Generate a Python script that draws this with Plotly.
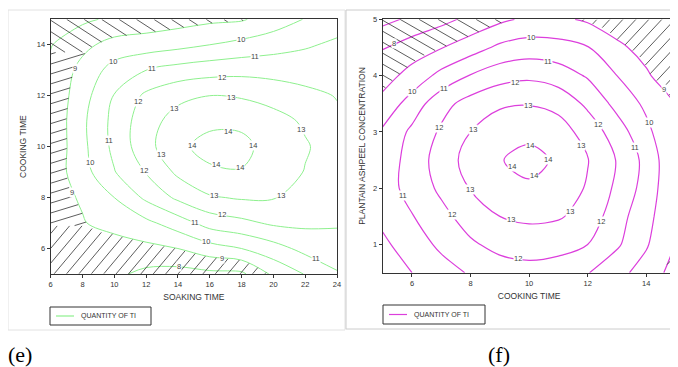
import numpy as np
import plotly.graph_objects as go

# ---------------- data ----------------
# Panel (e): quantity of TI vs soaking time (x) and cooking time (y)
soak_time = [6, 8, 10, 12, 14, 16, 18, 20, 22, 24]
cook_time_e = [5, 6, 7, 8, 9, 10, 11, 12, 13, 14, 15]
ti_e = [
    [8.7, 8.6, 8.2, 7.75, 7.6, 7.75, 7.8, 9.2, 10.05, 10.9],     # 5
    [8.8, 8.85, 8.6, 8.75, 9.0, 9.6, 10.0, 10.6, 11.3, 11.6],    # 6
    [8.75, 8.95, 9.3, 9.75, 10.5, 11.4, 11.75, 12.15, 12.2, 12.1],  # 7
    [8.7, 9.08, 10.0, 11.2, 12.2, 12.9, 13.1, 13.05, 12.7, 12.3],   # 8
    [8.4, 9.6, 10.95, 12.05, 13.2, 13.85, 13.95, 13.6, 12.95, 12.4],  # 9
    [8.2, 9.75, 11.25, 12.65, 13.8, 14.3, 14.25, 13.6, 13.1, 12.5],   # 10
    [8.2, 9.8, 11.3, 12.6, 13.4, 13.8, 13.8, 13.4, 12.85, 12.2],      # 11
    [8.2, 9.6, 11.05, 12.2, 12.75, 13.0, 12.9, 12.6, 12.3, 11.95],    # 12
    [8.2, 9.3, 10.4, 11.0, 11.4, 11.6, 11.7, 11.65, 11.5, 11.35],     # 13
    [7.95, 8.75, 9.35, 9.5, 9.7, 10.0, 10.3, 10.6, 10.9, 11.15],      # 14
    [7.4, 7.8, 8.2, 8.4, 8.6, 8.8, 8.9, 9.45, 10.05, 10.6],           # 15
]
levels_e = [8, 9, 10, 11, 12, 13, 14]
peak_e = (16.8, 10.0)

# Panel (f): quantity of TI vs cooking time (x) and plantain ash peel concentration (y)
cook_time_f = [5, 6, 7, 8, 9, 10, 11, 12, 13, 14, 15]
ash_conc = [0.5, 1.0, 1.5, 2.0, 2.5, 3.0, 3.5, 4.0, 4.5, 5.0]
ti_f = [
    [9.4, 10.0, 10.6, 11.1, 11.5, 11.65, 11.5, 11.05, 10.3, 9.6, 8.6],     # 0.5
    [9.8, 10.5, 11.2, 11.85, 12.3, 12.45, 12.35, 12.0, 11.15, 10.1, 8.95],  # 1.0
    [10.25, 10.95, 11.7, 12.45, 13.0, 13.2, 13.1, 12.65, 11.4, 10.35, 9.05],  # 1.5
    [10.55, 11.35, 12.2, 13.05, 13.6, 13.85, 13.6, 12.9, 11.8, 10.6, 9.1],   # 2.0
    [10.4, 11.4, 12.45, 13.4, 13.95, 14.3, 13.85, 13.05, 11.95, 10.7, 9.1],  # 2.5
    [10.15, 11.2, 12.15, 13.0, 13.6, 13.75, 13.45, 12.6, 11.5, 10.25, 9.05],  # 3.0
    [9.3, 10.45, 11.65, 12.4, 12.85, 12.95, 12.7, 11.8, 10.7, 9.8, 8.97],    # 3.5
    [8.6, 9.35, 10.3, 11.05, 11.6, 11.8, 11.5, 10.9, 10.0, 9.1, 8.5],        # 4.0
    [7.95, 8.5, 8.95, 9.55, 10.2, 10.45, 10.35, 10.05, 9.15, 8.75, 8.3],     # 4.5
    [6.7, 7.2, 7.7, 8.25, 8.8, 9.2, 9.2, 8.85, 8.6, 8.3, 7.95],              # 5.0
]
levels_f = [7, 8, 9, 10, 11, 12, 13, 14]
peak_f = (9.9, 2.45)

legend_name = "QUANTITY OF TI"
hatch_level = 9

# ---------------- layout geometry ----------------
# The page body keeps the browser's default 8 px margin, so the figure is drawn
# 8 px in from the window's top-left corner; all screen positions below are
# converted to figure positions.
OFF = 8
W, H = 678 - OFF, 367 - OFF
BOX_E = (50.7, 337.0, 19.3, 274.0)   # screen px: left, right, top, bottom
BOX_F = (382.7, 675.5, 19.3, 272.7)
GREEN = "#8ef08e"
MAGENTA = "#dc3fdc"
FONT = "Liberation Sans, Arial, sans-serif"
SERIF = "Liberation Serif, Times New Roman, serif"


def fx(x):
    return (x - OFF) / W


def fy(y):
    return 1 - (y - OFF) / H


def interp_grid(xs, ys, Z, xq, yq):
    xs = np.asarray(xs, float)
    ys = np.asarray(ys, float)
    Z = np.asarray(Z, float)
    gx = np.interp(xq, xs, np.arange(len(xs)))
    gy = np.interp(yq, ys, np.arange(len(ys)))
    i0 = np.clip(np.floor(gx).astype(int), 0, len(xs) - 2)
    j0 = np.clip(np.floor(gy).astype(int), 0, len(ys) - 2)
    tx = gx - i0
    ty = gy - j0
    return (Z[j0, i0] * (1 - tx) * (1 - ty) + Z[j0, i0 + 1] * tx * (1 - ty)
            + Z[j0 + 1, i0] * (1 - tx) * ty + Z[j0 + 1, i0 + 1] * tx * ty)


def px_to_data(px, py, xs, ys, box):
    x0, x1, y0, y1 = box
    xd = xs[0] + (px - x0) / (x1 - x0) * (xs[-1] - xs[0])
    yd = ys[0] + (y1 - py) / (y1 - y0) * (ys[-1] - ys[0])
    return xd, yd


def data_to_px(xd, yd, xs, ys, box):
    x0, x1, y0, y1 = box
    px = x0 + (xd - xs[0]) / (xs[-1] - xs[0]) * (x1 - x0)
    py = y1 - (yd - ys[0]) / (ys[-1] - ys[0]) * (y1 - y0)
    return px, py


def hatch(xs, ys, Z, box, families, level, spacing=9.5):
    x0, x1, y0, y1 = box
    outx, outy = [], []
    corners = np.array([[x0, y0], [x1, y0], [x0, y1], [x1, y1]])
    for ang, pred in families:
        a = np.radians(ang)
        d = np.array([np.cos(a), -np.sin(a)])
        n = np.array([-d[1], d[0]])
        pn = corners @ n
        pdd = corners @ d
        t = np.arange(pdd.min(), pdd.max(), 0.5)
        for c in np.arange(pn.min() + spacing / 2, pn.max(), spacing):
            px = c * n[0] + t * d[0]
            py = c * n[1] + t * d[1]
            inside = (px >= x0) & (px <= x1) & (py >= y0) & (py <= y1)
            xd, yd = px_to_data(px, py, xs, ys, box)
            z = interp_grid(xs, ys, Z, xd, yd)
            m = inside & (z < level) & pred(xd, yd)
            edges = np.flatnonzero(np.diff(np.concatenate([[0], m.astype(int), [0]])))
            for s, e in zip(edges[::2], edges[1::2]):
                if e - 1 - s < 3:
                    continue
                outx += [xd[s], xd[e - 1], None]
                outy += [yd[s], yd[e - 1], None]
    return outx, outy


def ray_labels(xs, ys, Z, box, center, levels, angles, xref, yref, margin=7, mindist=21):
    """Place level labels where rays from the peak cross each contour level."""
    x0, x1, y0, y1 = box
    cx, cy = data_to_px(center[0], center[1], xs, ys, box)
    r = np.arange(0, 500, 0.5)
    placed, anns = [], []
    for li, lev in enumerate(sorted(levels, reverse=True)):
        for ang in angles:
            a = np.radians(ang + ((li % 3) - 1) * 10)
            px = cx + r * np.cos(a)
            py = cy - r * np.sin(a)
            inside = (px >= x0) & (px <= x1) & (py >= y0) & (py <= y1)
            stop = np.argmin(inside) if not inside.all() else len(r)
            px, py = px[:stop], py[:stop]
            xd, yd = px_to_data(px, py, xs, ys, box)
            z = interp_grid(xs, ys, Z, xd, yd)
            hit = np.flatnonzero((z[:-1] >= lev) & (z[1:] < lev))
            if len(hit) == 0:
                continue
            k = hit[0]
            f = (z[k] - lev) / (z[k] - z[k + 1])
            qx = px[k] + f * (px[k + 1] - px[k])
            qy = py[k] + f * (py[k + 1] - py[k])
            if qx < x0 + margin or qx > x1 - margin or qy < y0 + margin or qy > y1 - margin:
                continue
            if any((qx - u) ** 2 + (qy - v) ** 2 < mindist ** 2 for u, v in placed):
                continue
            placed.append((qx, qy))
            dx, dy = px_to_data(qx, qy, xs, ys, box)
            anns.append(dict(x=dx, y=dy, xref=xref, yref=yref, text=str(lev),
                             xanchor="center", yanchor="middle",
                             showarrow=False, bgcolor="white", borderpad=0,
                             font=dict(size=7.5, color="#444444", family=FONT)))
    return anns


fig = go.Figure()

# hatch patterns (regions below the lowest level of interest)
hx, hy = hatch(soak_time, cook_time_e, ti_e, BOX_E,
               [(-33, lambda x, y: y >= 13.7),
                (17, lambda x, y: (y < 13.7) & (y >= 6.9)),
                (50, lambda x, y: y < 6.9)], hatch_level)
fig.add_trace(go.Scatter(x=hx, y=hy, mode="lines", line=dict(color="#333333", width=0.8),
                         hoverinfo="skip", showlegend=False, xaxis="x", yaxis="y"))
hx2, hy2 = hatch(cook_time_f, ash_conc, ti_f, BOX_F,
                 [(-30, lambda x, y: x < 10),
                  (47, lambda x, y: x >= 10)], hatch_level)
fig.add_trace(go.Scatter(x=hx2, y=hy2, mode="lines", line=dict(color="#333333", width=0.8),
                         hoverinfo="skip", showlegend=False, xaxis="x2", yaxis="y2"))

# contour lines
fig.add_trace(go.Contour(
    x=soak_time, y=cook_time_e, z=ti_e, xaxis="x", yaxis="y",
    contours=dict(start=min(levels_e), end=max(levels_e), size=1, coloring="none",
                  showlabels=False),
    line=dict(color=GREEN, width=1, smoothing=1.0),
    showscale=False, showlegend=False, hoverinfo="skip"))
fig.add_trace(go.Contour(
    x=cook_time_f, y=ash_conc, z=ti_f, xaxis="x2", yaxis="y2",
    contours=dict(start=min(levels_f), end=max(levels_f), size=1, coloring="none",
                  showlabels=False),
    line=dict(color=MAGENTA, width=1.2, smoothing=1.0),
    showscale=False, showlegend=False, hoverinfo="skip"))

labels = (ray_labels(soak_time, cook_time_e, ti_e, BOX_E, peak_e, levels_e,
                     [12, 80, 142, 187, 260, 320], "x", "y")
          + ray_labels(cook_time_f, ash_conc, ti_f, BOX_F, peak_f, levels_f,
                       [18, 88, 148, 205, 255, 312], "x2", "y2"))


def dom_x(b):
    return [fx(b[0]), fx(b[1])]


def dom_y(b):
    return [fy(b[3]), fy(b[2])]


axis_common = dict(showline=True, linecolor="#333333", linewidth=1, mirror=True,
                   ticks="outside", ticklen=3, tickcolor="#333333", showgrid=False,
                   zeroline=False, automargin=False,
                   tickfont=dict(size=7.5, color="#333333", family=FONT))
title_font = dict(size=8.5, color="#333333", family=FONT)


def legend_box(x0, y0, w, h, color):
    shapes = [
        dict(type="rect", xref="paper", yref="paper", x0=fx(x0), x1=fx(x0 + w),
             y0=fy(y0 + h), y1=fy(y0), line=dict(color="#333333", width=1),
             fillcolor="white"),
        dict(type="line", xref="paper", yref="paper", x0=fx(x0 + 6), x1=fx(x0 + 24),
             y0=fy(y0 + h / 2), y1=fy(y0 + h / 2), line=dict(color=color, width=1.2)),
    ]
    ann = dict(text=legend_name, xref="paper", yref="paper", x=fx(x0 + 29),
               y=fy(y0 + h / 2), xanchor="left", yanchor="middle", showarrow=False,
               font=dict(size=7, color="#333333", family=FONT))
    return shapes, ann


lg1_shapes, lg1_ann = legend_box(50, 307, 101, 18, GREEN)
lg2_shapes, lg2_ann = legend_box(383, 305, 102, 19, MAGENTA)

fig.update_layout(
    width=W, height=H, margin=dict(l=0, r=0, t=0, b=0, autoexpand=False),
    paper_bgcolor="white", plot_bgcolor="white",
    font=dict(family=FONT), showlegend=False,
    xaxis=dict(domain=dom_x(BOX_E), range=[6, 24], tickvals=soak_time, anchor="y",
               title=dict(text="SOAKING TIME", font=title_font, standoff=6), **axis_common),
    yaxis=dict(domain=dom_y(BOX_E), range=[5, 15], tickvals=[6, 8, 10, 12, 14], anchor="x",
               title=dict(text="COOKING TIME", font=title_font, standoff=8), **axis_common),
    xaxis2=dict(domain=dom_x(BOX_F), range=[5, 15], tickvals=[6, 8, 10, 12, 14], anchor="y2",
                title=dict(text="COOKING TIME", font=title_font, standoff=6), **axis_common),
    yaxis2=dict(domain=dom_y(BOX_F), range=[0.5, 5], tickvals=[1, 2, 3, 4, 5], anchor="x2",
                title=dict(text="PLANTAIN ASHPEEL CONCENTRATION", font=title_font, standoff=6),
                **axis_common),
    shapes=[
        dict(type="rect", xref="paper", yref="paper", x0=fx(8), x1=fx(345),
             y0=fy(330), y1=fy(10), line=dict(color="#e2e2e2", width=1)),
        dict(type="rect", xref="paper", yref="paper", x0=fx(346), x1=1.2,
             y0=fy(329), y1=fy(10), line=dict(color="#cccccc", width=1)),
    ] + lg1_shapes + lg2_shapes,
    annotations=labels + [
        lg1_ann, lg2_ann,
        dict(text="(e)", xref="paper", yref="paper", x=fx(20), y=fy(354),
             xanchor="center", yanchor="middle",
             showarrow=False, font=dict(size=22, color="black", family=SERIF)),
        dict(text="(f)", xref="paper", yref="paper", x=fx(499), y=fy(354),
             xanchor="center", yanchor="middle",
             showarrow=False, font=dict(size=22, color="black", family=SERIF)),
    ],
)

fig.write_html("out.html")
